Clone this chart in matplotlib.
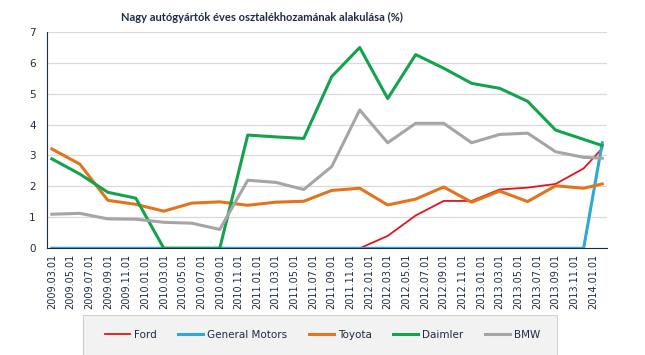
import matplotlib
matplotlib.use("Agg")
import matplotlib.pyplot as plt
from matplotlib.patches import Rectangle

# quarterly observations, x = months since 2009.03
months = [0, 3, 6, 9, 12, 15, 18, 21, 24, 27, 30, 33, 36, 39, 42, 45, 48, 51, 54, 57, 59]

ford = [0, 0, 0, 0, 0, 0, 0, 0, 0, 0, 0, 0, 0.40, 1.06, 1.53, 1.53, 1.90, 1.96, 2.08, 2.58, 3.23]
gm = [0, 0, 0, 0, 0, 0, 0, 0, 0, 0, 0, 0, 0, 0, 0, 0, 0, 0, 0, 0, 3.41]
toyota = [3.21, 2.72, 1.55, 1.42, 1.20, 1.46, 1.50, 1.39, 1.49, 1.52, 1.87, 1.94, 1.40, 1.59, 1.98, 1.49, 1.85, 1.51, 2.02, 1.94, 2.08]
daimler = [2.89, 2.40, 1.81, 1.62, 0, 0, 0, 3.66, 3.60, 3.55, 5.55, 6.49, 4.84, 6.26, 5.82, 5.33, 5.17, 4.75, 3.82, 3.52, 3.32]
bmw = [1.10, 1.13, 0.95, 0.94, 0.84, 0.81, 0.61, 2.20, 2.13, 1.90, 2.64, 4.47, 3.41, 4.04, 4.04, 3.41, 3.68, 3.72, 3.12, 2.94, 2.91]

tick_pos = list(range(0, 59, 2))
tick_labels = [
    "2009.03.01", "2009.05.01", "2009.07.01", "2009.09.01", "2009.11.01",
    "2010.01.01", "2010.03.01", "2010.05.01", "2010.07.01", "2010.09.01", "2010.11.01",
    "2011.01.01", "2011.03.01", "2011.05.01", "2011.07.01", "2011.09.01", "2011.11.01",
    "2012.01.01", "2012.03.01", "2012.05.01", "2012.07.01", "2012.09.01", "2012.11.01",
    "2013.01.01", "2013.03.01", "2013.05.01", "2013.07.01", "2013.09.01", "2013.11.01",
    "2014.01.01",
]

navy = "#1d2b45"
plt.rcParams['font.family'] = ['DejaVu Sans']

fig = plt.figure(figsize=(6.45, 3.55), dpi=100)
ax = fig.add_axes([0.0724, 0.3006, 0.8686, 0.6101])

ax.plot(months, ford, color="#e3141c", lw=1.3, label="Ford")
ax.plot(months, gm, color="#2ea7d9", lw=2.2, label="General Motors")
ax.plot(months, toyota, color="#e4731e", lw=2.2, label="Toyota")
ax.plot(months, daimler, color="#12a34c", lw=2.2, label="Daimler")
ax.plot(months, bmw, color="#a5a5a5", lw=2.2, label="BMW")

ax.set_xlim(-0.55, 59.5)
ax.set_ylim(0, 7)
ax.set_yticks(range(0, 8))
ax.set_xticks(tick_pos)
ax.set_xticklabels(tick_labels, rotation=90, fontsize=7, color=navy)
ax.tick_params(axis='y', labelsize=7.5, labelcolor=navy, length=0, pad=8)
ax.tick_params(axis='x', length=0, pad=4)
ax.grid(axis='y', color="#d9d9d9", lw=0.9)
ax.set_axisbelow(True)
for s in ("top", "right"):
    ax.spines[s].set_visible(False)
ax.spines["left"].set_color(navy)
ax.spines["bottom"].set_color(navy)

fig.text(0.406, 0.952, "Nagy autógyártók éves osztalékhozamának alakulása (%)",
         ha="center", va="center", fontsize=8, fontweight="bold", color=navy,
         family=["Lato", "DejaVu Sans"])

# legend box drawn separately, the entries sit centred inside it
fig.patches.append(Rectangle((0.1287, -0.01), 0.7349, 0.1227, transform=fig.transFigure,
                             facecolor="#f2f2f2", edgecolor="#d0d0d0", lw=0.8, zorder=0))
leg = fig.legend(loc="center", ncol=5, bbox_to_anchor=(0.5, 0.0563),
                 fontsize=7.5, frameon=False, handlelength=2.4, handletextpad=0.35,
                 columnspacing=2.1, borderaxespad=0.0)
for t in leg.get_texts():
    t.set_color(navy)

fig.savefig("out.png", dpi=100)
